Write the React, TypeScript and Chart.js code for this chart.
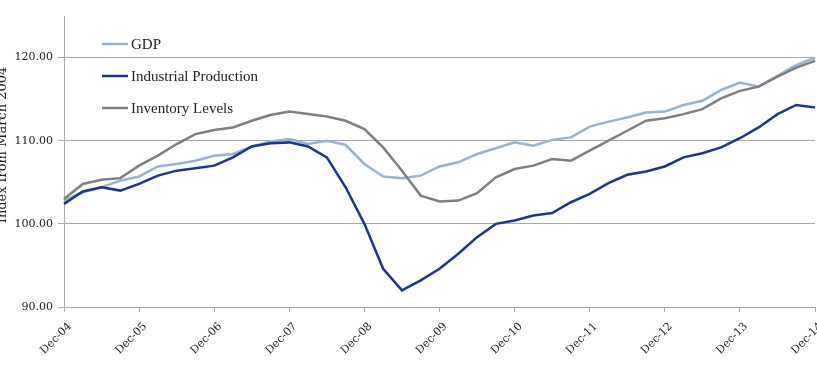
import React, { useEffect, useRef } from "react";
import { Chart, registerables } from "chart.js";

Chart.register(...registerables);

const years = ["04", "05", "06", "07", "08", "09", "10", "11", "12", "13", "14"];
const quarterLabels: string[] = [];
years.forEach((y, i) => {
  if (i === 0) quarterLabels.push("Dec-" + y);
  else quarterLabels.push("Mar-" + y, "Jun-" + y, "Sep-" + y, "Dec-" + y);
});

const gdp = [102.8, 103.8, 104.4, 105.2, 105.7, 106.9, 107.2, 107.6, 108.2, 108.4, 109.3, 109.9, 110.2, 109.6, 110.0, 109.5, 107.2, 105.7, 105.5, 105.8, 106.9, 107.4, 108.4, 109.1, 109.8, 109.4, 110.1, 110.4, 111.7, 112.3, 112.8, 113.4, 113.5, 114.3, 114.8, 116.1, 117.0, 116.5, 117.8, 119.1, 120.0];
const industrialProduction = [102.4, 103.9, 104.4, 104.0, 104.8, 105.8, 106.4, 106.7, 107.0, 108.0, 109.3, 109.7, 109.8, 109.3, 108.0, 104.4, 100.0, 94.6, 92.0, 93.2, 94.6, 96.4, 98.4, 100.0, 100.4, 101.0, 101.3, 102.6, 103.6, 104.9, 105.9, 106.3, 106.9, 108.0, 108.5, 109.2, 110.3, 111.6, 113.2, 114.3, 114.0];
const inventoryLevels = [103.0, 104.8, 105.3, 105.5, 107.0, 108.2, 109.6, 110.8, 111.3, 111.6, 112.4, 113.1, 113.5, 113.2, 112.9, 112.4, 111.4, 109.2, 106.4, 103.4, 102.7, 102.8, 103.7, 105.6, 106.6, 107.0, 107.8, 107.6, 108.8, 110.0, 111.2, 112.4, 112.7, 113.2, 113.8, 115.1, 116.0, 116.5, 117.7, 118.8, 119.6];

const seriesNames = ["GDP", "Industrial Production", "Inventory Levels"];
const seriesColors = ["#95b3d7", "#1a3690", "#7f7f7f"];
const yTicks = [90, 100, 110, 120];
const yTitle = "Index from March 2004";

const GRID = "#a8a8a8";

const legendPlugin = {
  id: "insideLegend",
  afterDatasetsDraw(chart: any) {
    const ctx = chart.ctx;
    ctx.save();
    chart.data.datasets.forEach((ds: any, i: number) => {
      const y = 44 + i * 32;
      ctx.strokeStyle = ds.borderColor;
      ctx.lineWidth = 2.5;
      ctx.beginPath();
      ctx.moveTo(102, y);
      ctx.lineTo(128, y);
      ctx.stroke();
      ctx.fillStyle = "#222";
      ctx.font = "15px 'Liberation Serif'";
      ctx.textBaseline = "alphabetic";
      ctx.textAlign = "left";
      ctx.fillText(ds.label, 131, y + 5);
    });
    ctx.restore();
  },
};

const yTitlePlugin = {
  id: "yTitle",
  afterDraw(chart: any) {
    const ctx = chart.ctx;
    ctx.save();
    ctx.translate(3, 145);
    ctx.rotate(-Math.PI / 2);
    ctx.fillStyle = "#222";
    ctx.font = "13px 'DejaVu Serif'";
    ctx.textAlign = "center";
    ctx.textBaseline = "middle";
    ctx.fillText(yTitle, 0, 0);
    ctx.restore();
  },
};

export default function App() {
  const ref = useRef<HTMLCanvasElement>(null);
  useEffect(() => {
    if (!ref.current) return;
    const chart = new Chart(ref.current, {
      type: "line",
      data: {
        labels: quarterLabels,
        datasets: [
          { label: seriesNames[0], data: gdp, borderColor: seriesColors[0], order: 2 },
          { label: seriesNames[1], data: industrialProduction, borderColor: seriesColors[1], order: 0 },
          { label: seriesNames[2], data: inventoryLevels, borderColor: seriesColors[2], order: 1 },
        ].map((d) => ({ ...d, borderWidth: 2.5, pointRadius: 0, tension: 0, fill: false, backgroundColor: d.borderColor })),
      },
      options: {
        animation: false,
        responsive: false,
        devicePixelRatio: 1,
        layout: { padding: { top: 16, right: 2, left: 0, bottom: 0 } },
        plugins: { legend: { display: false }, tooltip: { enabled: false } },
        scales: {
          x: {
            type: "category",
            offset: false,
            afterFit: (s: any) => {
              s.height = 59;
              s.paddingLeft = 0;
              s.paddingRight = 0;
            },
            grid: {
              drawOnChartArea: false,
              drawTicks: true,
              tickLength: 5,
              color: (c: any) => (c.index % 4 === 0 ? GRID : "rgba(0,0,0,0)"),
            },
            border: { display: true, color: GRID, width: 1 },
            ticks: {
              autoSkip: false,
              maxRotation: 45,
              minRotation: 45,
              padding: 8,
              labelOffset: 6,
              color: "#222",
              font: { family: "'DejaVu Serif'", size: 11 },
              callback: (v: any, i: number) => (i % 4 === 0 ? quarterLabels[i] : ""),
            },
          },
          y: {
            min: 90,
            max: 125,
            afterFit: (s: any) => {
              s.width = 64;
              s.paddingTop = 0;
              s.paddingBottom = 0;
            },
            afterBuildTicks: (s: any) => {
              s.ticks = yTicks.map((v) => ({ value: v }));
            },
            grid: { color: GRID, tickLength: 6, lineWidth: 1 },
            border: { display: true, color: GRID, width: 1 },
            ticks: {
              padding: 5,
              color: "#222",
              font: { family: "'DejaVu Serif'", size: 11 },
              callback: (v: any) => Number(v).toFixed(2),
            },
          },
        },
      },
      plugins: [legendPlugin, yTitlePlugin],
    } as any);
    return () => chart.destroy();
  }, []);
  return (
    <div style={{ position: "absolute", left: 0, top: 0, width: 817, height: 366, background: "#fff" }}>
      <canvas ref={ref} width={817} height={366} />
    </div>
  );
}
